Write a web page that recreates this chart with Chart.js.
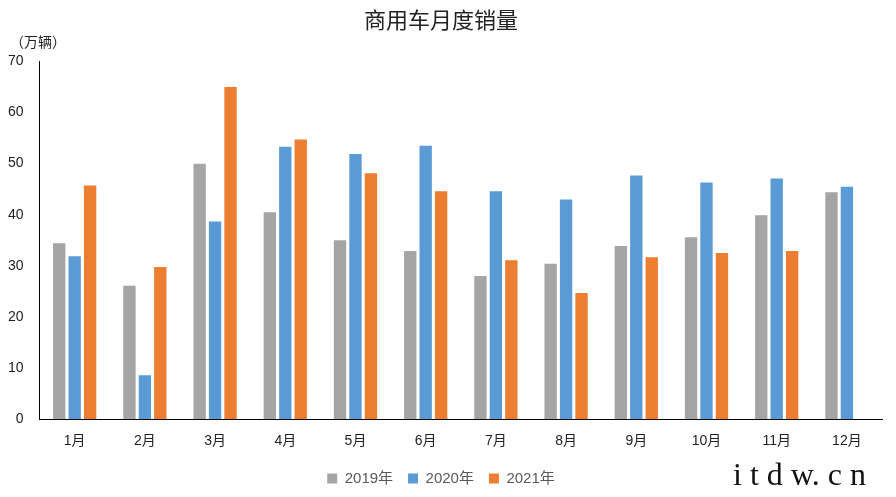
<!DOCTYPE html>
<html>
<head>
<meta charset="utf-8">
<script src="https://cdn.jsdelivr.net/npm/chart.js@4"></script>
<style>
  html, body { margin: 0; padding: 0; background: #fff; }
  #wrap { width: 896px; height: 497px; position: relative; }
</style>
</head>
<body>
<div id="wrap"><canvas id="c" width="896" height="497"></canvas></div>
<script>
// data (万辆)
const months = ["1月", "2月", "3月", "4月", "5月", "6月", "7月", "8月", "9月", "10月", "11月", "12月"]
const sales2019 = [34.4, 26.1, 50.0, 40.5, 35.0, 32.9, 28.0, 30.4, 33.9, 35.6, 39.9, 44.4]
const sales2020 = [31.9, 8.6, 38.7, 53.3, 51.9, 53.5, 44.6, 43.0, 47.7, 46.3, 47.1, 45.5]
const sales2021 = [45.7, 29.8, 65.0, 54.7, 48.1, 44.6, 31.1, 24.7, 31.7, 32.5, 32.9, null]
const yTicks = [0, 10, 20, 30, 40, 50, 60, 70]

const cjk = "'Liberation Sans', 'Noto Sans CJK SC', sans-serif"

// unit label above the y axis + watermark
const extraText = {
  id: "extraText",
  afterDraw(chart) {
    const ctx = chart.ctx
    ctx.save()
    ctx.fillStyle = "#222"
    ctx.font = "14px 'Noto Sans CJK SC'"
    ctx.textAlign = "left"
    ctx.textBaseline = "middle"
    ctx.fillText("（万辆）", 10, 42)
    ctx.fillStyle = "#111"
    ctx.font = "32px 'Liberation Serif', serif"
    ctx.textBaseline = "alphabetic"
    ctx.fillText("i t d w. c n", 733, 485)
    ctx.restore()
  }
}

new Chart(document.getElementById("c"), {
  type: "bar",
  data: {
    labels: months,
    datasets: [
      { label: "2019年", data: sales2019, backgroundColor: "#A5A5A5" },
      { label: "2020年", data: sales2020, backgroundColor: "#5B9BD5" },
      { label: "2021年", data: sales2021, backgroundColor: "#ED7D31" }
    ]
  },
  options: {
    responsive: false,
    animation: false,
    categoryPercentage: 0.66,
    barPercentage: 0.8,
    layout: { padding: { left: 0, right: 14, top: 0, bottom: 1 } },
    plugins: {
      title: {
        display: true,
        text: "商用车月度销量",
        color: "#222",
        font: { family: "'Noto Sans CJK SC'", size: 22, weight: "normal" },
        padding: { top: 6, bottom: 29 }
      },
      legend: {
        position: "bottom",
        labels: {
          boxWidth: 10,
          boxHeight: 10,
          color: "#595959",
          font: { family: cjk, size: 15 },
          padding: 15
        }
      },
      tooltip: { enabled: false }
    },
    scales: {
      x: {
        grid: { display: false },
        border: { display: true, color: "#000", width: 1 },
        ticks: { color: "#222", font: { family: cjk, size: 14 }, padding: 6 }
      },
      y: {
        min: 0,
        max: 70,
        afterBuildTicks(axis) { axis.ticks = yTicks.map(v => ({ value: v })) },
        grid: { display: false },
        border: { display: true, color: "#000", width: 1 },
        ticks: { color: "#222", font: { family: cjk, size: 14 }, padding: 8 }
      }
    }
  },
  plugins: [extraText]
})
</script>
</body>
</html>
